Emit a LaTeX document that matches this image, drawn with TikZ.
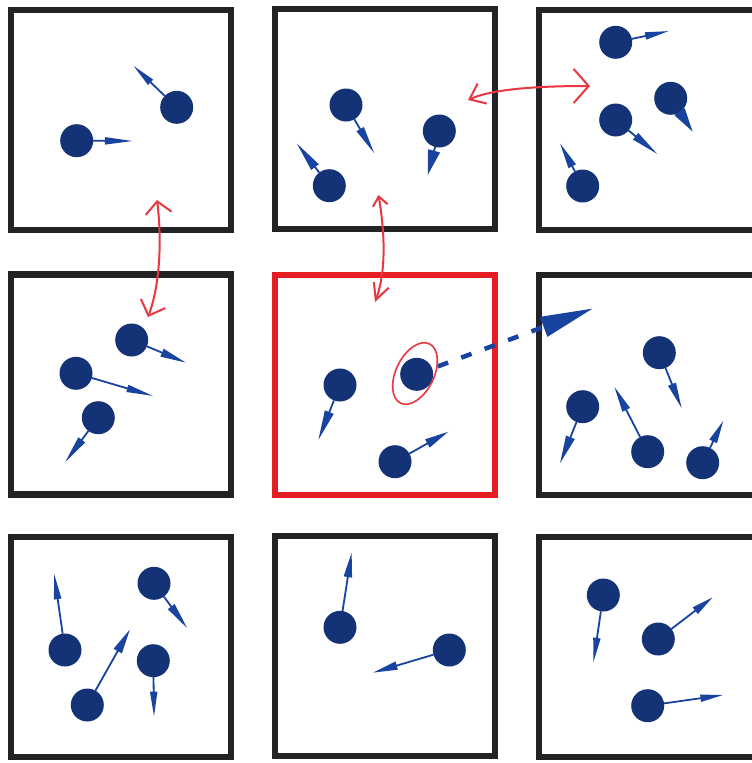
\documentclass[tikz,border=0pt]{standalone}
\usetikzlibrary{arrows.meta,shapes.geometric}
\definecolor{ballc}{RGB}{20,50,118}
\definecolor{velc}{RGB}{24,68,160}
\definecolor{penc}{RGB}{232,55,65}
\definecolor{framec}{RGB}{35,35,38}
\definecolor{hotc}{RGB}{228,30,35}
\begin{document}
\begin{tikzpicture}[x=1pt,y=-1pt,
  cell/.style={draw=framec,line width=6.5pt,minimum width=220pt,minimum height=220pt,inner sep=0pt,outer sep=0pt},
  ball/.style={circle,fill=ballc,minimum size=33pt,inner sep=0pt,outer sep=0pt},
  vec/.style 2 args={draw=velc,line width=1.8pt,-{Triangle[length=#1,width=#2]}},
  redarr/.style={draw=penc,line width=2pt,line cap=round}]
\useasboundingbox (0,0) rectangle (752,763);
\fill[white] (0,0) rectangle (752,763);
\clip (0,0) rectangle (752,763);
% cells
\node[cell] (c1) at (121,120) {};
\node[cell] (c2) at (385,119) {};
\node[cell] (c3) at (649,120) {};
\node[cell] (c4) at (121,384.5) {};
\node[cell,draw=hotc] (c5) at (385,385) {};
\node[cell] (c6) at (649,385) {};
\node[cell] (c7) at (121,647) {};
\node[cell] (c8) at (385,646) {};
\node[cell] (c9) at (649,647) {};
% balls
\node[ball] (pA) at (76.7,140.7) {};
\node[ball] (pB) at (176.7,107.3) {};
\node[ball] (pC) at (346,105) {};
\node[ball] (pD) at (329.3,185.7) {};
\node[ball] (pE) at (439.3,131) {};
\node[ball] (pF) at (615.7,42.3) {};
\node[ball] (pG) at (670.7,98.3) {};
\node[ball] (pH) at (615.7,120) {};
\node[ball] (pI) at (582.7,186) {};
\node[ball] (pJ) at (131.7,340) {};
\node[ball] (pK) at (76,373.3) {};
\node[ball] (pL) at (98.3,417.7) {};
\node[ball] (pM) at (340,385) {};
\node[ball] (pN) at (416.7,374.3) {};
\node[ball] (pO) at (395,461.7) {};
\node[ball] (pP) at (659.3,352.7) {};
\node[ball] (pQ) at (582.7,406.7) {};
\node[ball] (pR) at (647.7,451.7) {};
\node[ball] (pS) at (702.7,462.7) {};
\node[ball] (pT) at (65,650) {};
\node[ball] (pU) at (154,583.3) {};
\node[ball] (pV) at (87.3,705) {};
\node[ball] (pW) at (153.3,660.7) {};
\node[ball] (pX) at (340,627.3) {};
\node[ball] (pY) at (449.3,650) {};
\node[ball] (pZ) at (603.3,595) {};
\node[ball] (pAA) at (658.3,639) {};
\node[ball] (pAB) at (647.7,705.7) {};
% velocity tips
\coordinate (tA) at (133,141);
\coordinate (tB) at (133.3,65.7);
\coordinate (tC) at (374.3,153.3);
\coordinate (tD) at (296.7,143.3);
\coordinate (tE) at (427.7,175);
\coordinate (tF) at (669,31);
\coordinate (tG) at (692.7,131.7);
\coordinate (tH) at (657.3,154);
\coordinate (tI) at (560,143.3);
\coordinate (tJ) at (186,362.7);
\coordinate (tK) at (153.3,396);
\coordinate (tL) at (65,462.3);
\coordinate (tM) at (318.3,440);
\coordinate (tN) at (593.3,308.3);
\coordinate (tO) at (448.3,431.7);
\coordinate (tP) at (681.7,408.3);
\coordinate (tQ) at (560,463.3);
\coordinate (tR) at (614.3,386.7);
\coordinate (tS) at (723.3,420.7);
\coordinate (tT) at (54,573.3);
\coordinate (tU) at (187.3,628.3);
\coordinate (tV) at (130,629.3);
\coordinate (tW) at (154,716.7);
\coordinate (tX) at (351.7,552.3);
\coordinate (tY) at (372.7,672.7);
\coordinate (tZ) at (593.3,662.7);
\coordinate (tAA) at (712.7,597.3);
\coordinate (tAB) at (723.3,695);
% velocity arrows
\draw[vec={28pt}{7pt}] (pA) -- (tA);
\draw[vec={24pt}{7pt}] (pB) -- (tB);
\draw[vec={28pt}{8pt}] (pC) -- (tC);
\draw[vec={30pt}{9pt}] (pD) -- (tD);
\draw[vec={25pt}{12pt}] (pE) -- (tE);
\draw[vec={24pt}{7pt}] (pF) -- (tF);
\draw[vec={24pt}{12pt}] (pG) -- (tG);
\draw[vec={28pt}{8pt}] (pH) -- (tH);
\draw[vec={26pt}{8pt}] (pI) -- (tI);
\draw[vec={26pt}{8pt}] (pJ) -- (tJ);
\draw[vec={27pt}{7pt}] (pK) -- (tK);
\draw[vec={28pt}{8pt}] (pL) -- (tL);
\draw[vec={30pt}{9pt}] (pM) -- (tM);
\draw[vec={24pt}{9pt}] (pO) -- (tO);
\draw[vec={26pt}{8pt}] (pP) -- (tP);
\draw[vec={28pt}{9pt}] (pQ) -- (tQ);
\draw[vec={26pt}{8pt}] (pR) -- (tR);
\draw[vec={23pt}{8pt}] (pS) -- (tS);
\draw[vec={26pt}{7pt}] (pT) -- (tT);
\draw[vec={27pt}{8pt}] (pU) -- (tU);
\draw[vec={25pt}{9pt}] (pV) -- (tV);
\draw[vec={25pt}{7pt}] (pW) -- (tW);
\draw[vec={25pt}{8pt}] (pX) -- (tX);
\draw[vec={25pt}{8pt}] (pY) -- (tY);
\draw[vec={25pt}{7pt}] (pZ) -- (tZ);
\draw[vec={22pt}{8pt}] (pAA) -- (tAA);
\draw[vec={23pt}{7pt}] (pAB) -- (tAB);
% big dashed arrow
\draw[draw=velc,line width=4.5pt,dash pattern=on 11pt off 14pt,dash phase=-6pt,-{Triangle[length=53pt,width=20pt]}] (pN) -- (tN);
% ring
\node[draw=penc,line width=1.6pt,ellipse,minimum width=38pt,minimum height=66pt,inner sep=0pt,rotate=-26] (ring) at (415,373.5) {};
% red double arrows
\coordinate (r1a) at (157,200);
\coordinate (r1b) at (148,317);
\coordinate (r2a) at (378.5,195);
\coordinate (r2b) at (375,302);
\coordinate (r3a) at (468,100);
\coordinate (r3b) at (590,86);
\draw[redarr,{Straight Barb[length=12pt,width=26pt]}-{Straight Barb[length=13pt,width=26pt]}] (r1a) .. controls (162,240) and (160,285) .. (r1b);
\draw[redarr,{Straight Barb[length=9pt,width=15pt]}-{Straight Barb[length=16pt,width=16pt]}] (r2a) .. controls (386,240) and (385,275) .. (r2b);
\draw[redarr,{Straight Barb[length=14pt,width=22pt]}-{Straight Barb[length=15pt,width=34pt]}] (r3a) .. controls (490,90) and (530,86) .. (r3b);
\end{tikzpicture}
\end{document}
